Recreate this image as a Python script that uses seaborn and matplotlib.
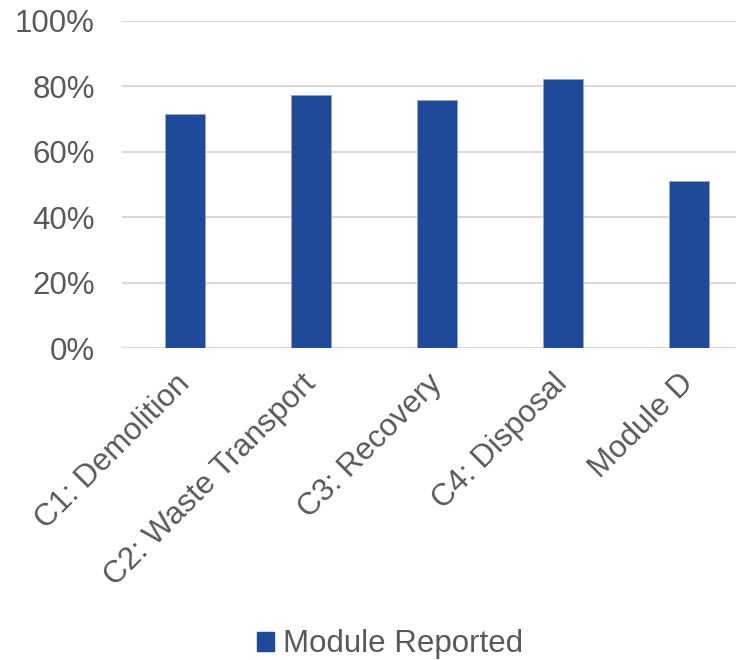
import matplotlib
matplotlib.use("Agg")
import matplotlib.pyplot as plt
import seaborn as sns
import pandas as pd
from matplotlib.ticker import PercentFormatter
from matplotlib.patches import Patch

categories = ["C1: Demolition", "C2: Waste Transport", "C3: Recovery", "C4: Disposal", "Module D"]
values = [71.5, 77.2, 75.7, 82.1, 51.2]
series_name = "Module Reported"

sns.set_theme(style="white")
plt.rcParams['font.family'] = ['Liberation Sans', 'DejaVu Sans']

df = pd.DataFrame({"cat": categories, "val": values})

fig = plt.figure(figsize=(7.36, 6.6), dpi=100)
ax = fig.add_axes([122/736, 311.7/660, 630/736, 327.6/660])

bar_color = "#1E4A99"
sns.barplot(data=df, x="cat", y="val", color=bar_color, width=0.315, ax=ax,
            edgecolor="#8FA8D6", linewidth=0.6, saturation=1)

ax.set_ylim(0, 100)
ax.set_yticks([0, 20, 40, 60, 80, 100])
ax.yaxis.set_major_formatter(PercentFormatter(decimals=0))
ax.set_xlim(-0.5, 4.5)
ax.grid(axis="y", color="#D9D9D9", linewidth=1.5)
ax.set_axisbelow(True)
for s in ax.spines.values():
    s.set_visible(False)
ax.set_xlabel("")
ax.set_ylabel("")
ax.tick_params(axis="both", length=0, labelsize=22.5, colors="#595959")
ax.tick_params(axis="y", pad=19.5)
for lbl in ax.get_xticklabels():
    lbl.set_rotation(45)
    lbl.set_ha("right")
    lbl.set_rotation_mode("anchor")
    lbl.set_va("center")
ax.tick_params(axis="x", pad=22)

handles = [Patch(facecolor=bar_color, edgecolor=bar_color, label=series_name)]
fig.legend(handles=handles, loc="center", bbox_to_anchor=(0.53, 0.024), frameon=False,
           fontsize=22.5, labelcolor="#595959", handlelength=0.55, handleheight=0.55,
           handletextpad=0.3)

fig.savefig("out.png", dpi=100)
